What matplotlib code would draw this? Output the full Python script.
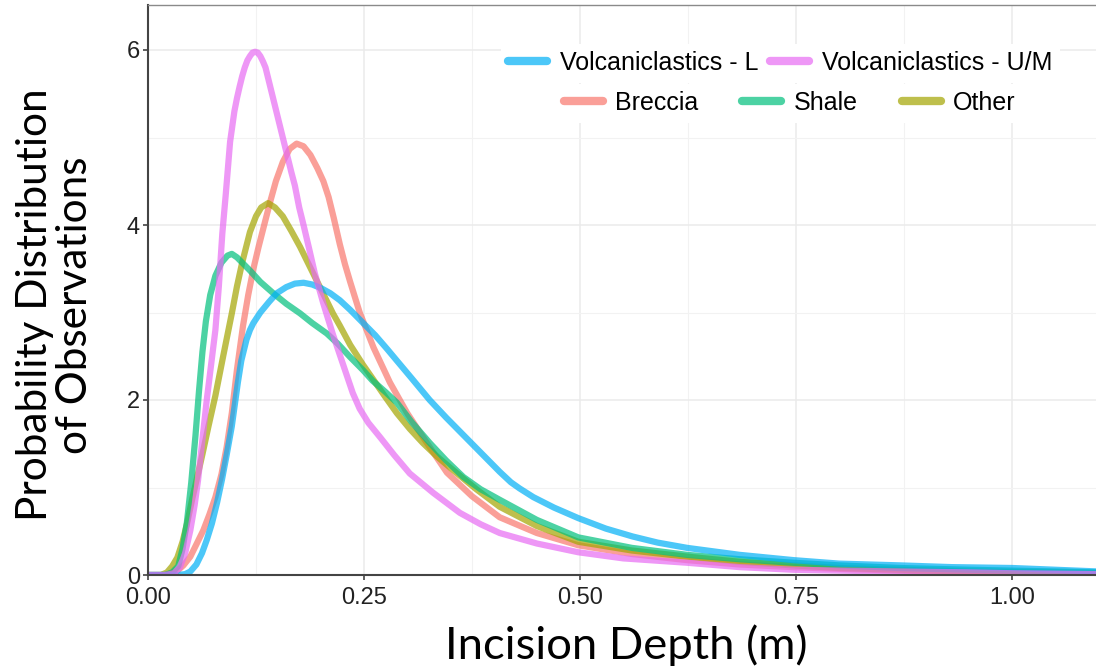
import matplotlib
matplotlib.use("Agg")
import matplotlib.pyplot as plt
from matplotlib.ticker import MultipleLocator, FormatStrFormatter
import numpy as np

plt.rcParams['font.family'] = ['Liberation Sans', 'DejaVu Sans']

# density curves of incision depth, by rock unit
breccia_x = [0, 0.02, 0.033, 0.041, 0.049, 0.056, 0.064, 0.071, 0.078, 0.085, 0.091, 0.097, 0.103,
             0.110, 0.116, 0.122, 0.128, 0.135, 0.141, 0.148, 0.156, 0.164, 0.172, 0.180, 0.188,
             0.196, 0.203, 0.209, 0.215, 0.222, 0.228, 0.234, 0.245, 0.261, 0.280, 0.300, 0.320,
             0.346, 0.375, 0.407, 0.45, 0.498, 0.56, 0.624, 0.685, 0.747, 0.80, 0.87, 0.95, 1.0,
             1.05, 1.1]
breccia_y = [0, 0, 0.04, 0.11, 0.21, 0.35, 0.51, 0.69, 0.89, 1.15, 1.46, 1.85, 2.35,
             2.85, 3.2, 3.5, 3.75, 4.02, 4.25, 4.5, 4.72, 4.87, 4.93, 4.9, 4.8,
             4.65, 4.5, 4.32, 4.08, 3.78, 3.55, 3.35, 3.0, 2.6, 2.2, 1.85, 1.55,
             1.17, 0.9, 0.66, 0.48, 0.34, 0.24, 0.17, 0.12, 0.09, 0.07, 0.05, 0.035, 0.03,
             0.02, 0.015]

other_x = [0, 0.015, 0.022, 0.028, 0.034, 0.040, 0.045, 0.051, 0.057, 0.063, 0.070, 0.078, 0.087,
           0.097, 0.103, 0.109, 0.118, 0.125, 0.131, 0.139, 0.147, 0.156, 0.166, 0.176, 0.185,
           0.195, 0.205, 0.214, 0.222, 0.234, 0.249, 0.261, 0.275, 0.288, 0.303, 0.318, 0.335,
           0.353, 0.38, 0.407, 0.45, 0.498, 0.56, 0.624, 0.685, 0.747, 0.80, 0.87, 0.95, 1.0,
           1.05, 1.1]
other_y = [0, 0, 0.03, 0.1, 0.2, 0.38, 0.58, 0.86, 1.12, 1.38, 1.7, 2.05, 2.5,
           2.99, 3.3, 3.57, 3.92, 4.1, 4.2, 4.25, 4.2, 4.1, 3.93, 3.75, 3.57,
           3.37, 3.17, 2.99, 2.85, 2.63, 2.4, 2.23, 2.03, 1.85, 1.67, 1.51, 1.35,
           1.2, 0.98, 0.78, 0.56, 0.38, 0.28, 0.21, 0.15, 0.11, 0.08, 0.06, 0.04, 0.035,
           0.03, 0.02]

shale_x = [0, 0.02, 0.028, 0.035, 0.040, 0.045, 0.050, 0.055, 0.059, 0.063, 0.067, 0.072, 0.078,
           0.085, 0.092, 0.097, 0.103, 0.110, 0.118, 0.130, 0.145, 0.160, 0.176, 0.190, 0.207,
           0.220, 0.234, 0.249, 0.260, 0.275, 0.288, 0.305, 0.326, 0.345, 0.365, 0.385, 0.407,
           0.45, 0.498, 0.56, 0.624, 0.685, 0.747, 0.80, 0.87, 0.95, 1.0, 1.05, 1.1]
shale_y = [0, 0, 0.03, 0.1, 0.3, 0.6, 1.05, 1.6, 2.1, 2.55, 2.9, 3.2, 3.42,
           3.57, 3.65, 3.67, 3.63, 3.56, 3.48, 3.35, 3.22, 3.1, 2.99, 2.88, 2.76,
           2.64, 2.49, 2.34, 2.22, 2.09, 1.97, 1.75, 1.51, 1.31, 1.12, 0.98, 0.86,
           0.63, 0.43, 0.31, 0.23, 0.18, 0.14, 0.11, 0.08, 0.06, 0.05, 0.04, 0.03]

volc_l_x = [0, 0.035, 0.043, 0.049, 0.056, 0.0625, 0.068, 0.074, 0.080, 0.0856, 0.091, 0.097,
            0.104, 0.108, 0.114, 0.118, 0.122, 0.130, 0.140, 0.149, 0.160, 0.170, 0.180, 0.190,
            0.200, 0.211, 0.222, 0.234, 0.249, 0.263, 0.277, 0.288, 0.305, 0.326, 0.345, 0.365,
            0.385, 0.407, 0.42, 0.43, 0.446, 0.47, 0.498, 0.53, 0.561, 0.59, 0.624, 0.685,
            0.747, 0.80, 0.87, 0.93, 1.0, 1.05, 1.1]
volc_l_y = [0, 0, 0.01, 0.04, 0.12, 0.25, 0.4, 0.59, 0.83, 1.09, 1.37, 1.7,
            2.2, 2.45, 2.69, 2.8, 2.88, 3.0, 3.12, 3.22, 3.29, 3.33, 3.34, 3.32,
            3.28, 3.22, 3.14, 3.03, 2.88, 2.74, 2.58, 2.45, 2.25, 2.0, 1.8, 1.6,
            1.4, 1.18, 1.06, 0.99, 0.89, 0.77, 0.65, 0.53, 0.44, 0.37, 0.31, 0.23,
            0.17, 0.13, 0.11, 0.09, 0.08, 0.06, 0.04]

volc_um_x = [0, 0.02, 0.03, 0.037, 0.043, 0.049, 0.054, 0.058, 0.063, 0.068, 0.073, 0.078, 0.082,
             0.086, 0.090, 0.095, 0.100, 0.103, 0.106, 0.109, 0.112, 0.115, 0.118, 0.121, 0.124,
             0.127, 0.130, 0.133, 0.136, 0.141, 0.146, 0.151, 0.156, 0.161, 0.166, 0.170, 0.175,
             0.180, 0.186, 0.193, 0.203, 0.214, 0.226, 0.237, 0.245, 0.255, 0.269, 0.285, 0.303,
             0.33, 0.361, 0.385, 0.407, 0.45, 0.498, 0.55, 0.624, 0.685, 0.747, 0.80, 0.87,
             0.95, 1.0, 1.05, 1.1]
volc_um_y = [0, 0, 0.02, 0.09, 0.25, 0.51, 0.8, 1.09, 1.55, 2.0, 2.4, 2.8, 3.3,
             3.9, 4.35, 4.95, 5.3, 5.45, 5.58, 5.7, 5.8, 5.88, 5.93, 5.97, 5.98,
             5.97, 5.93, 5.87, 5.8, 5.6, 5.4, 5.2, 5.0, 4.8, 4.6, 4.45, 4.2,
             4.0, 3.75, 3.45, 3.1, 2.75, 2.4, 2.08, 1.9, 1.74, 1.57, 1.37, 1.16,
             0.94, 0.71, 0.58, 0.48, 0.36, 0.26, 0.19, 0.14, 0.09, 0.06, 0.05, 0.04,
             0.03, 0.02, 0.015, 0.01]

# ggplot hue palette, drawn in factor order
series = [
    ("Breccia", breccia_x, breccia_y, "#F8766D"),
    ("Other", other_x, other_y, "#A3A500"),
    ("Shale", shale_x, shale_y, "#00BF7D"),
    ("Volcaniclastics - L", volc_l_x, volc_l_y, "#00B0F6"),
    ("Volcaniclastics - U/M", volc_um_x, volc_um_y, "#E76BF3"),
]

W, H = 1096, 666
fig = plt.figure(figsize=(W / 100, H / 100), dpi=100)
ax = fig.add_axes([148 / W, 91 / H, (W - 148) / W, 570 / H])

handles = {}
for name, xs, ys, col in series:
    ln, = ax.plot(xs, ys, color=col, lw=4.5, alpha=0.7, solid_capstyle="round",
                  solid_joinstyle="round", label=name)
    handles[name] = ln

ax.set_xlim(0, (W - 148) / 864)
ax.set_ylim(0, 570 / 87.5)

ax.xaxis.set_major_locator(MultipleLocator(0.25))
ax.xaxis.set_minor_locator(MultipleLocator(0.125))
ax.yaxis.set_major_locator(MultipleLocator(2))
ax.yaxis.set_minor_locator(MultipleLocator(1))
ax.xaxis.set_major_formatter(FormatStrFormatter("%.2f"))
ax.grid(which="major", color="#ebebeb", lw=1.1, zorder=0)
ax.grid(which="minor", color="#f2f2f2", lw=0.8, zorder=0)
ax.set_axisbelow(True)

ax.tick_params(which="major", length=3.8, width=1.1, color="#333333", labelsize=17,
               labelcolor="#222222", pad=2)
ax.tick_params(axis="x", which="major", pad=4.5)
ax.tick_params(which="minor", length=0)
for s in ["left", "bottom"]:
    ax.spines[s].set_color("#444444")
    ax.spines[s].set_linewidth(1.5)
ax.spines["top"].set_color("#8a8a8a")
ax.spines["top"].set_linewidth(1.0)
ax.spines["right"].set_visible(False)

# two-row legend: volcaniclastics on top, the rest below
leg_kw = dict(frameon=True, facecolor="white", edgecolor="none", fontsize=18,
              handlelength=1.56, handletextpad=0.5, borderaxespad=0, framealpha=1,
              fancybox=False)
top_names = ["Volcaniclastics - L", "Volcaniclastics - U/M"]
bot_names = ["Breccia", "Shale", "Other"]
leg1 = ax.legend([handles[n] for n in top_names], top_names, ncol=2, loc="center",
                 bbox_to_anchor=(0.667, 0.898), columnspacing=0.48, borderpad=0.3, **leg_kw)
for lh in leg1.get_lines():
    lh.set_linewidth(6)
ax.add_artist(leg1)
leg2 = ax.legend([handles[n] for n in bot_names], bot_names, ncol=3, loc="center",
                 bbox_to_anchor=(0.677, 0.828), columnspacing=1.75, borderpad=0.3, **leg_kw)
for lh in leg2.get_lines():
    lh.set_linewidth(6)

fig.text(626 / W, 1 - 659 / H, "Incision Depth (m)", family=["Lato", "DejaVu Sans"],
         fontsize=32.7, ha="center", va="baseline")
fig.text(55 / W, 1 - 305 / H, "Probability Distribution\nof Observations",
         family=["Lato", "DejaVu Sans"], fontsize=30.5, rotation=90, ha="center",
         va="center", multialignment="center", linespacing=1.05)

fig.savefig("out.png", dpi=100)
